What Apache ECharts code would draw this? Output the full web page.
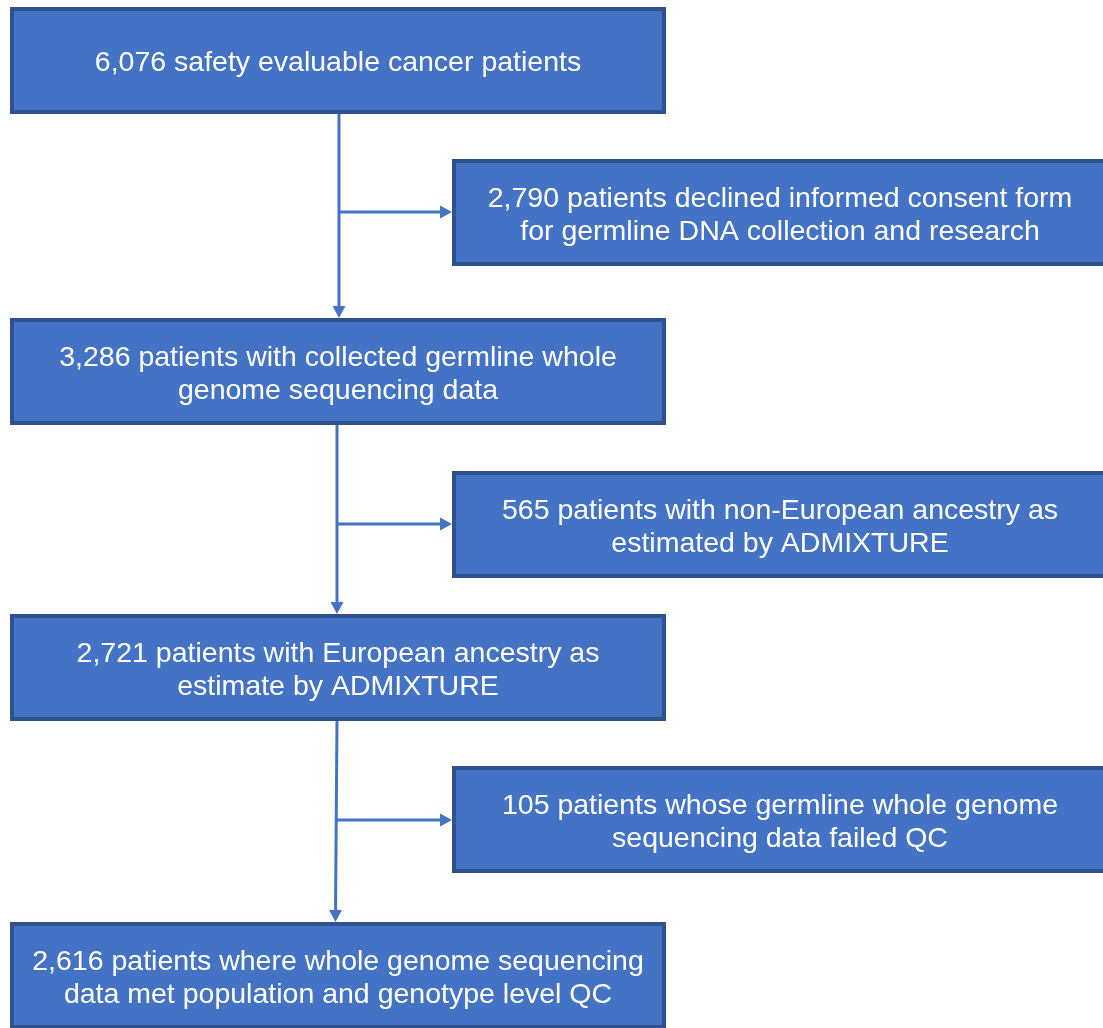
<!DOCTYPE html>
<html>
<head>
<meta charset="utf-8">
<script src="https://cdn.jsdelivr.net/npm/echarts@6/dist/echarts.min.js"></script>
<style>
  html, body { margin: 0; padding: 0; background: #fff; }
  #main { width: 1103px; height: 1028px; }
</style>
</head>
<body>
<div id="main"></div>
<script>
// 主流程各步骤
const mainSteps = [
  '6,076 safety evaluable cancer patients',
  '3,286 patients with collected germline whole\ngenome sequencing data',
  '2,721 patients with European ancestry as\nestimate by ADMIXTURE',
  '2,616 patients where whole genome sequencing\ndata met population and genotype level QC'
];
// 每一步排除的患者
const excludedSteps = [
  '2,790 patients declined informed consent form\nfor germline DNA collection and research',
  '565 patients with non-European ancestry as\nestimated by ADMIXTURE',
  '105 patients whose germline whole genome\nsequencing data failed QC'
];

// 布局（像素坐标，坐标轴与画布 1:1）
const layout = {
  mainLeft: 10, mainRight: 666,
  mainTops: [7, 318, 614, 922],
  sideLeft: 452, sideRight: 1108,
  sideTops: [159, 471, 766],
  boxHeight: 107,
  lineX: [[339, 339], [337, 337], [337, 335.5]],
  branchY: [212, 524, 820]
};

const fill = '#4472C4';
const border = '#2F528F';
const fontFamily = '"Liberation Sans", Arial, sans-serif';

function boxItem(api, left, top, right, text) {
  let p0 = api.coord([left, top]);
  let p1 = api.coord([right, top + layout.boxHeight]);
  return {
    type: 'group',
    children: [
      {
        type: 'rect',
        shape: { x: p0[0] + 2, y: p0[1] + 2, width: p1[0] - p0[0] - 4, height: p1[1] - p0[1] - 4 },
        style: { fill: fill, stroke: border, lineWidth: 4 }
      },
      {
        type: 'text',
        style: {
          text: text,
          x: (p0[0] + p1[0]) / 2,
          y: (p0[1] + p1[1]) / 2 + 3,
          fill: '#fff',
          fontSize: 28.5,
          fontFamily: fontFamily,
          lineHeight: 33,
          align: 'center',
          verticalAlign: 'middle'
        }
      }
    ]
  };
}

function arrowHead(tip, dir) {
  // dir: 'down' 或 'right'
  let [x, y] = tip;
  let pts = dir === 'down'
    ? [[x, y], [x - 6.5, y - 12], [x + 6.5, y - 12]]
    : [[x, y], [x - 12, y - 6.5], [x - 12, y + 6.5]];
  return { type: 'polygon', shape: { points: pts }, style: { fill: fill } };
}

let chartDom = document.getElementById('main');
let mycharts = echarts.init(chartDom);

let option = {
  animation: false,
  grid: { left: 0, right: 0, top: 0, bottom: 0 },
  xAxis: { type: 'value', min: 0, max: 1103, show: false },
  yAxis: { type: 'value', min: 0, max: 1028, inverse: true, show: false },
  series: [
    {
      name: 'connectors',
      type: 'custom',
      clip: false,
      data: excludedSteps.map((_, i) => [i]),
      renderItem: function(params, api) {
        let i = api.value(0);
        let yTop = layout.mainTops[i] + layout.boxHeight;
        let yBot = layout.mainTops[i + 1];
        let xs = layout.lineX[i];
        let top = api.coord([xs[0], yTop]);
        let bot = api.coord([xs[1], yBot]);
        let by = layout.branchY[i];
        let bx = xs[0] + (xs[1] - xs[0]) * (by - yTop) / (yBot - yTop);
        let b0 = api.coord([bx, by]);
        let b1 = api.coord([layout.sideLeft, by]);
        let lineStyle = { stroke: fill, lineWidth: 3 };
        return {
          type: 'group',
          children: [
            { type: 'line', shape: { x1: top[0], y1: top[1], x2: bot[0], y2: bot[1] - 8 }, style: lineStyle },
            arrowHead(bot, 'down'),
            { type: 'line', shape: { x1: b0[0], y1: b0[1], x2: b1[0] - 8, y2: b1[1] }, style: lineStyle },
            arrowHead(b1, 'right')
          ]
        };
      }
    },
    {
      name: 'main',
      type: 'custom',
      clip: false,
      data: mainSteps.map((t, i) => [i]),
      renderItem: function(params, api) {
        let i = api.value(0);
        return boxItem(api, layout.mainLeft, layout.mainTops[i], layout.mainRight, mainSteps[i]);
      }
    },
    {
      name: 'excluded',
      type: 'custom',
      clip: false,
      data: excludedSteps.map((t, i) => [i]),
      renderItem: function(params, api) {
        let i = api.value(0);
        return boxItem(api, layout.sideLeft, layout.sideTops[i], layout.sideRight, excludedSteps[i]);
      }
    }
  ]
};
option && mycharts.setOption(option);
</script>
</body>
</html>
